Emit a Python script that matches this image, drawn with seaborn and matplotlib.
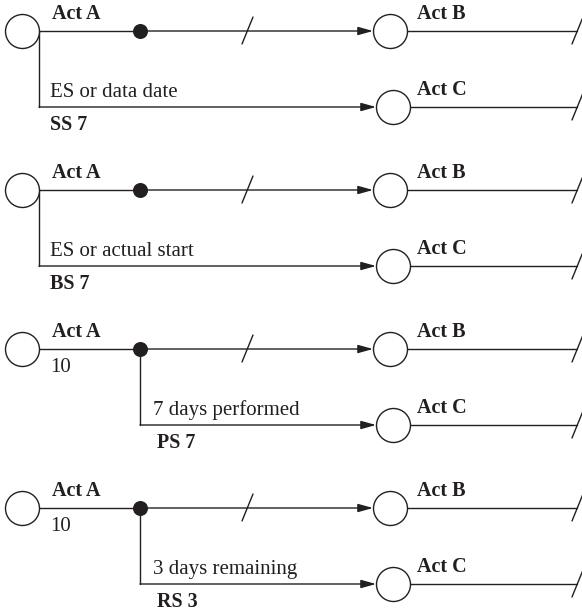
import matplotlib
matplotlib.use("Agg")
import matplotlib.pyplot as plt
import seaborn as sns
import pandas as pd

# ---- diagram content ----
act_a_labels = ["Act A", "Act A", "Act A", "Act A"]
act_b_labels = ["Act B", "Act B", "Act B", "Act B"]
act_c_labels = ["Act C", "Act C", "Act C", "Act C"]
branch_texts = ["ES or data date", "ES or actual start", "7 days performed", "3 days remaining"]
relation_labels = ["SS 7", "BS 7", "PS 7", "RS 3"]
duration_labels = ["", "", "10", "10"]
branch_from_progress = [False, False, True, True]

sns.set_theme(style="white")
plt.rcParams["font.family"] = ["Liberation Serif", "DejaVu Serif"]

INK = "#231f20"
W, H = 582, 612
fig = plt.figure(figsize=(W / 100, H / 100), dpi=100)
ax = fig.add_axes([0, 0, 1, 1])
ax.set_xlim(0, W)
ax.set_ylim(H, 0)
ax.axis("off")

R = 17
LW = 1.0
FS_B = 14.5
FS_R = 15
ARROW = dict(arrowstyle="-|>,head_length=0.9,head_width=0.25",
             mutation_scale=10, lw=LW, color=INK, shrinkA=0, shrinkB=0)

rows = []
dots = []
for i in range(4):
    y0 = 31 + 159 * i
    yb = y0 + 76
    rows += [(22, y0), (390, y0), (393, yb)]
    dots.append((140, y0))

    # main line A -> B
    ax.plot([22 + R, 140], [y0, y0], color=INK, lw=LW)
    ax.annotate("", xy=(390 - R, y0), xytext=(140, y0), arrowprops=ARROW)
    # slash on main line
    ax.plot([242, 253], [y0 + 13, y0 - 14], color=INK, lw=LW)
    # line after B with end slash
    ax.plot([390 + R, 577], [y0, y0], color=INK, lw=LW)
    ax.plot([572, 583], [y0 + 13, y0 - 14], color=INK, lw=LW)

    # branch
    bx = 140 if branch_from_progress[i] else 22 + R
    ax.plot([bx, bx], [y0, yb], color=INK, lw=LW)
    ax.annotate("", xy=(393 - R, yb), xytext=(bx, yb), arrowprops=ARROW)
    ax.plot([393 + R, 577], [yb, yb], color=INK, lw=LW)
    ax.plot([572, 583], [yb + 13, yb - 14], color=INK, lw=LW)

    # labels
    ax.text(52, y0 - 12, act_a_labels[i], fontsize=FS_B, fontweight="bold",
            color=INK, va="baseline", ha="left")
    ax.text(417, y0 - 12, act_b_labels[i], fontsize=FS_B, fontweight="bold",
            color=INK, va="baseline", ha="left")
    ax.text(417, yb - 12, act_c_labels[i], fontsize=FS_B, fontweight="bold",
            color=INK, va="baseline", ha="left")
    tx = 153 if branch_from_progress[i] else 50
    ax.text(tx, yb - 10, branch_texts[i], fontsize=FS_R, color=INK,
            va="baseline", ha="left")
    lx = 157 if branch_from_progress[i] else 50
    ax.text(lx, yb + 23, relation_labels[i], fontsize=FS_B, fontweight="bold",
            color=INK, va="baseline", ha="left")
    if duration_labels[i]:
        ax.text(50, y0 + 23, duration_labels[i], fontsize=FS_R, color=INK,
                va="baseline", ha="left")

nodes = pd.DataFrame(rows, columns=["x", "y"])
prog = pd.DataFrame(dots, columns=["x", "y"])
d_pt = 2 * R * 72 / 100
sns.scatterplot(data=nodes, x="x", y="y", ax=ax, s=d_pt ** 2, marker="o",
                facecolor="white", edgecolor=INK, linewidth=LW, zorder=5)
sns.scatterplot(data=prog, x="x", y="y", ax=ax, s=(15 * 72 / 100) ** 2,
                marker="o", color=INK, edgecolor=INK, linewidth=0, zorder=6)
ax.set_xlim(0, W)
ax.set_ylim(H, 0)
ax.axis("off")

fig.savefig("out.png", dpi=100)
